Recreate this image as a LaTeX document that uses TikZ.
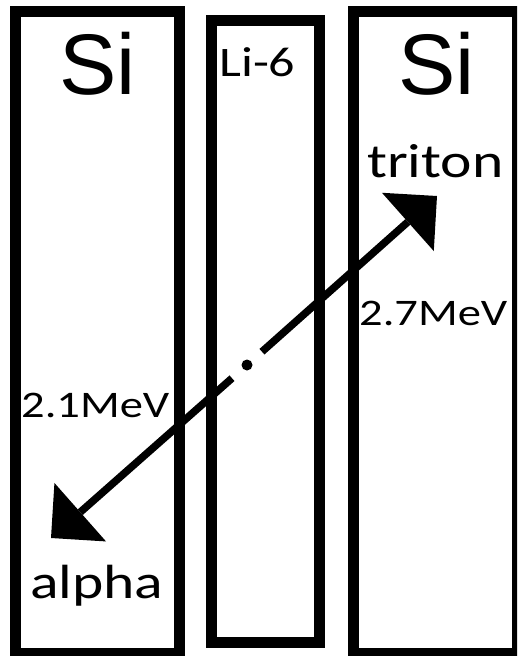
\documentclass[tikz,border=0pt]{standalone}
\usepackage{fontspec}
\setmainfont{Liberation Sans}
\newfontfamily\labelfont[FakeStretch=1.24]{Carlito}
\usetikzlibrary{arrows.meta,positioning}

\begin{document}
\begin{tikzpicture}[
      x=1pt, y=-1pt,
      layer/.style={draw=black, line width=11pt, line join=miter},
      element/.style={anchor=base west, inner sep=0pt,
                      font=\fontsize{86}{90}\selectfont},
      energy/.style={anchor=base west, inner sep=0pt,
                     font=\labelfont\fontsize{37.5}{42}\selectfont},
      particle/.style={anchor=base west, inner sep=0pt,
                       font=\labelfont\fontsize{48}{52}\selectfont},
      ray/.style={line width=7.5pt, shorten <=20pt,
                  -{Triangle[length=39pt, width=78pt, line width=0pt]}},
    ]
    \useasboundingbox (0,0) rectangle (517,656);
    \clip (0,0) rectangle (517,656);

    % detector layers
    \draw[layer] (15.5,11) rectangle (179.5,653.5);
    \draw[layer] (211.5,20.5) rectangle (319.5,642);
    \draw[layer] (353,11) rectangle (517.5,653.5);

    \node[element] (siL) at (59,94) {Si};
    \node[element] (siR) at (398,94) {Si};
    \node[energy, font=\labelfont\fontsize{42}{46}\selectfont] (li) at (219,76) {Li-6};

    % decay point and tracks
    \coordinate (decay) at (247,365);
    \coordinate (tipT) at (437,196);
    \coordinate (tipA) at (51,538);
    \fill (decay) circle (5.5pt);
    \draw[ray] (decay) -- (tipT);
    \draw[ray] (decay) -- (tipA);

    \node[particle] (triton) at (367,177) {triton};
    \node[particle] (alpha) at (30,598) {alpha};
    \node[energy] (eT) at (359,325) {2.7MeV};
    \node[energy] (eA) at (21,417) {2.1MeV};
  \end{tikzpicture}
\end{document}
